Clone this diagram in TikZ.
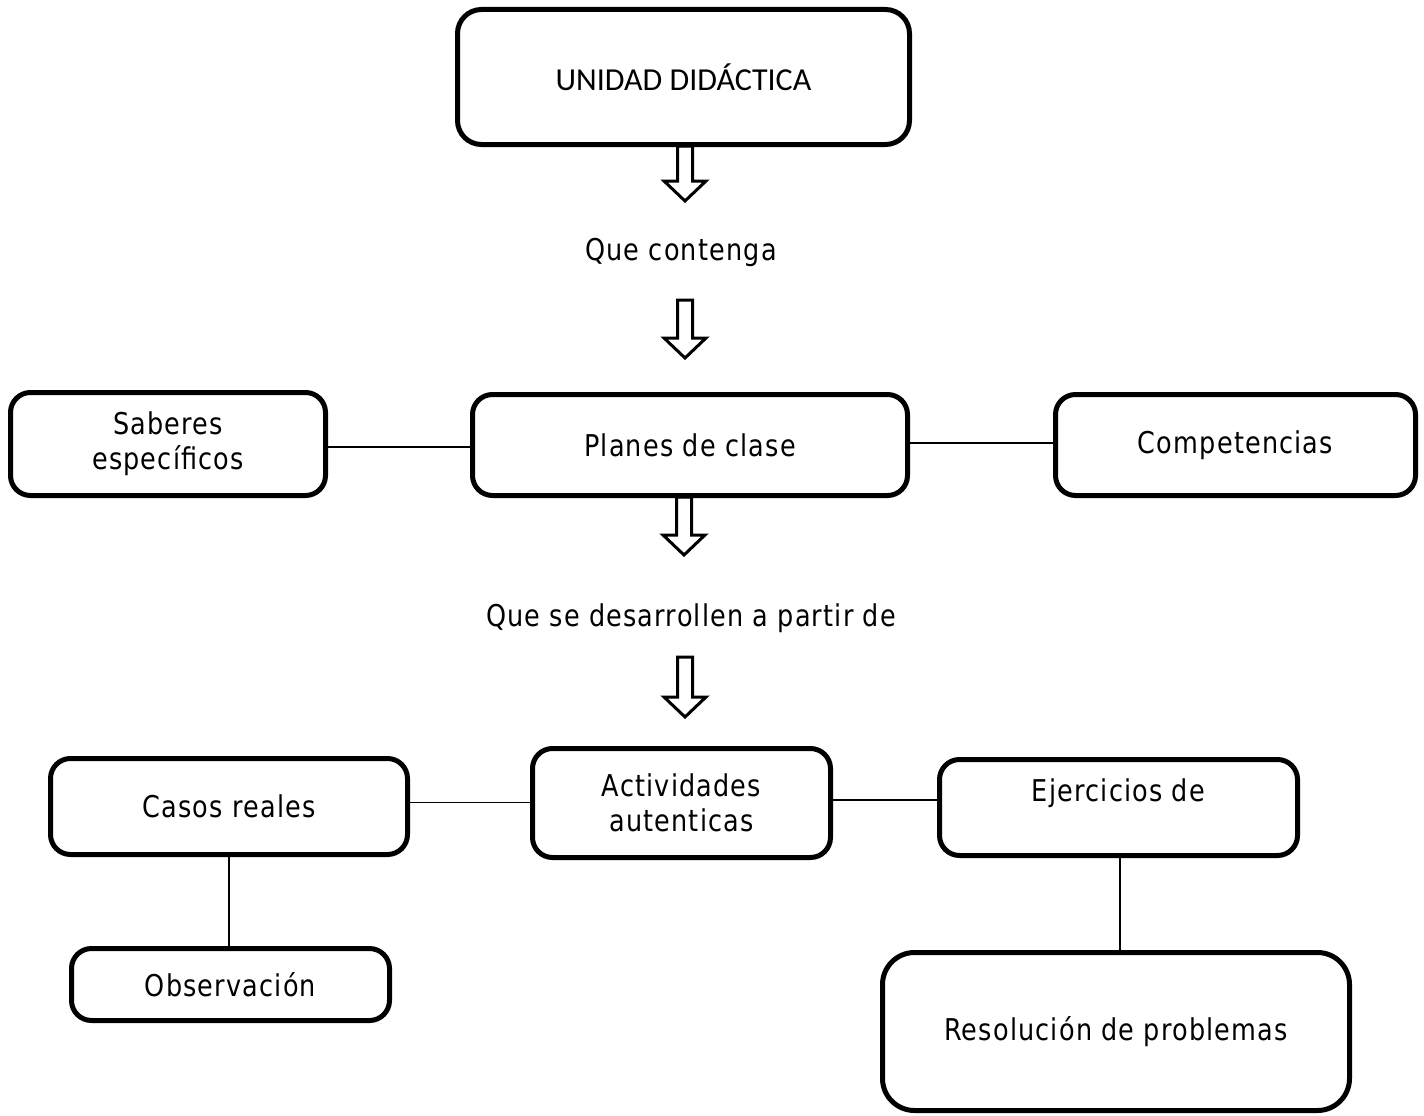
\documentclass[tikz,border=0pt]{standalone}
\usepackage{fontspec}
\setmainfont{DejaVu Sans}[FakeStretch=0.85,LetterSpace=4]
\newfontfamily\calib{Carlito}
\begin{document}
\begin{tikzpicture}[x=1pt,y=-1pt,
  box/.style={draw, line width=5pt, rounded corners=20pt, inner sep=0pt, align=center,
    font=\fontsize{30}{35}\selectfont},
  lbl/.style={inner sep=0pt, font=\fontsize{30}{35}\selectfont},
  link/.style={line width=1.8pt},
  pics/harrow/.style={code={\draw[line width=3pt, line join=miter]
    (-7.5,0) -- (-7.5,#1-20) -- (-21,#1-20) -- (0,#1) -- (21,#1-20) -- (7.5,#1-20) -- (7.5,0) -- cycle;}}
]
\useasboundingbox (0,0) rectangle (1424,1116);
% boxes
\node[box, minimum width=452pt, minimum height=135pt, rounded corners=24pt] (u) at (683.5,77) {\calib\fontsize{32}{38}\selectfont UNIDAD DIDÁCTICA};
\node[box, minimum width=315pt, minimum height=103pt] (sab) at (168,444) {Saberes\\específicos};
\node[box, minimum width=435pt, minimum height=101pt] (pla) at (690,445) {Planes de clase};
\node[box, minimum width=360pt, minimum height=101pt] (comp) at (1235.5,445) {Competencias};
\node[box, minimum width=357pt, minimum height=96pt] (casos) at (229,806.5) {Casos reales};
\node[box, minimum width=298pt, minimum height=109pt] (act) at (681.5,803) {Actividades\\autenticas};
\node[box, minimum width=358pt, minimum height=96pt] (ejer) at (1118.5,807.5) {Ejercicios de\\\mbox{}};
\node[box, minimum width=318pt, minimum height=72pt] (obs) at (230.5,984.5) {Observación};
\node[box, minimum width=467pt, minimum height=158pt, rounded corners=32pt] (res) at (1116,1031.5) {Resolución de problemas};
% labels
\node[lbl] (q1) at (681,252) {Que contenga};
\node[lbl] (q2) at (691,618) {Que se desarrollen a partir de};
% arrows
\coordinate (a1) at (685,146);
\coordinate (a2) at (685,300);
\coordinate (a3) at (684,497);
\coordinate (a4) at (685,657);
\pic at (a1) {harrow=55};
\pic at (a2) {harrow=58};
\pic at (a3) {harrow=58};
\pic at (a4) {harrow=60};
% connectors
\draw[link] ([yshift=-3pt]sab.east) -- ([yshift=-3pt]sab.east -| pla.west);
\draw[link] ([yshift=2pt]pla.east) -- ([yshift=2pt]pla.east -| comp.west);
\draw[link] ([yshift=4pt]casos.east) -- ([yshift=4pt]casos.east -| act.west);
\draw[link] ([yshift=3pt]act.east) -- ([yshift=3pt]act.east -| ejer.west);
\draw[link] (casos.south) -- (casos.south |- obs.north);
\draw[link] ([xshift=1.5pt]ejer.south) -- ([xshift=1.5pt]ejer.south |- res.north);
\end{tikzpicture}
\end{document}
